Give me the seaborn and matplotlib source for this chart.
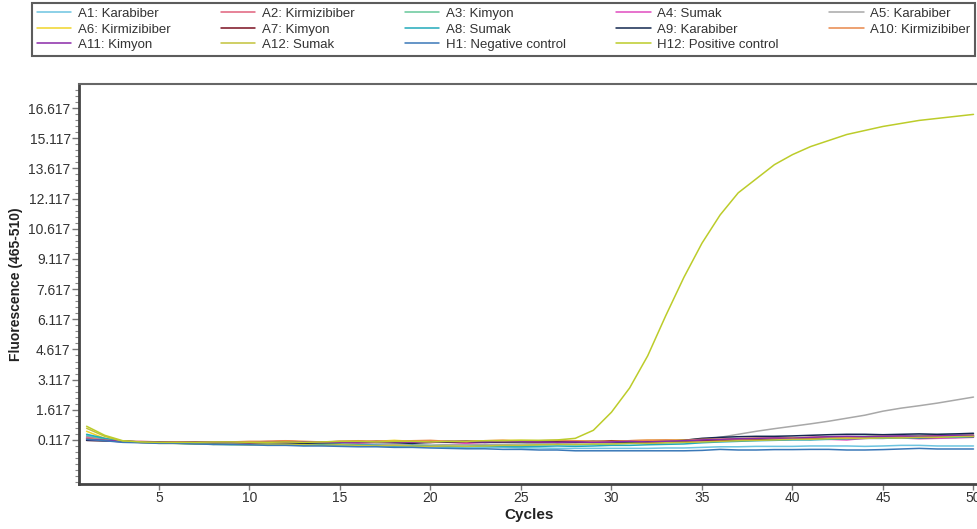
import matplotlib
matplotlib.use("Agg")
import matplotlib.pyplot as plt
from matplotlib.ticker import MultipleLocator, FixedLocator
import numpy as np
import seaborn as sns

# cycles 1..50
cycles = list(range(1, 51))

# sample names and line colours (legend order, row by row)
names = ["A1: Karabiber", "A2: Kirmizibiber", "A3: Kimyon", "A4: Sumak", "A5: Karabiber",
         "A6: Kirmizibiber", "A7: Kimyon", "A8: Sumak", "A9: Karabiber", "A10: Kirmizibiber",
         "A11: Kimyon", "A12: Sumak", "H1: Negative control", "H12: Positive control"]
colors = ["#6cc4e0", "#e0607c", "#66c89a", "#e04cc0", "#a8a8a8",
          "#f0d42a", "#7a1020", "#22aabb", "#142850", "#e8884a",
          "#8a2aa8", "#c2c23a", "#3a78b8", "#bccc2a"]

# y tick values shown on the axis
ytick_values = np.arange(0.117, 17.0, 1.5)

# fluorescence values
a1 = [0.35, 0.18, 0.05, 0.02, 0.0, -0.02, -0.05, -0.08, -0.08, -0.1, -0.1, -0.12, -0.12, -0.12, -0.15, -0.15, -0.18, -0.18, -0.2, -0.22,
      -0.22, -0.25, -0.25, -0.25, -0.28, -0.28, -0.3, -0.3, -0.3, -0.3, -0.3, -0.3, -0.28, -0.28, -0.25, -0.22, -0.22, -0.2, -0.2, -0.2,
      -0.18, -0.18, -0.18, -0.2, -0.18, -0.15, -0.15, -0.18, -0.18, -0.18]
a2 = [0.2, 0.12, 0.05, 0.05, 0.02, 0.02, 0.0, 0.0, 0.02, 0.0, 0.05, 0.05, 0.02, 0.0, 0.05, 0.05, 0.02, 0.0, 0.02, 0.05,
      0.05, 0.0, 0.0, 0.02, 0.05, 0.05, 0.05, 0.02, 0.0, 0.05, 0.08, 0.1, 0.08, 0.05, 0.1, 0.12, 0.15, 0.18, 0.2, 0.2,
      0.22, 0.22, 0.25, 0.25, 0.28, 0.3, 0.32, 0.32, 0.35, 0.35]
a3 = [0.3, 0.15, 0.02, 0.0, -0.02, -0.02, -0.05, -0.1, -0.05, -0.05, -0.02, -0.05, -0.08, -0.05, -0.08, -0.1, -0.1, -0.12, -0.12, -0.15,
      -0.12, -0.1, -0.15, -0.18, -0.15, -0.12, -0.1, -0.12, -0.1, -0.08, -0.05, -0.05, -0.02, 0.0, 0.05, 0.1, 0.12, 0.15, 0.18, 0.2,
      0.22, 0.25, 0.28, 0.3, 0.32, 0.32, 0.35, 0.38, 0.4, 0.42]
a4 = [0.25, 0.1, 0.02, 0.0, 0.0, 0.0, 0.02, 0.0, -0.02, 0.0, 0.0, 0.02, 0.0, 0.02, 0.0, -0.02, 0.0, 0.0, 0.02, 0.0,
      0.0, -0.05, 0.0, 0.02, 0.05, 0.0, -0.05, 0.0, 0.05, 0.02, 0.05, -0.05, 0.0, 0.05, 0.05, 0.1, 0.1, 0.15, 0.12, 0.15,
      0.18, 0.15, 0.12, 0.2, 0.2, 0.22, 0.18, 0.2, 0.22, 0.25]
a5 = [0.2, 0.1, 0.02, 0.0, 0.0, -0.02, -0.02, -0.05, -0.05, -0.05, -0.05, -0.08, -0.08, -0.1, -0.1, -0.1, -0.12, -0.12, -0.12, -0.15,
      -0.12, -0.12, -0.1, -0.1, -0.08, -0.05, -0.05, -0.02, 0.0, 0.02, 0.05, 0.08, 0.1, 0.12, 0.15, 0.25, 0.4, 0.55, 0.68, 0.8,
      0.92, 1.05, 1.2, 1.35, 1.55, 1.7, 1.82, 1.95, 2.1, 2.25]
a6 = [0.55, 0.2, 0.05, 0.02, -0.02, -0.05, -0.05, -0.08, -0.1, -0.05, -0.02, 0.0, 0.02, 0.02, 0.0, 0.02, 0.05, 0.1, 0.05, 0.02,
      0.05, 0.05, 0.08, 0.1, 0.1, 0.08, 0.05, 0.08, 0.05, 0.05, 0.08, 0.1, 0.1, 0.12, 0.15, 0.15, 0.18, 0.2, 0.18, 0.2,
      0.22, 0.2, 0.22, 0.25, 0.22, 0.25, 0.28, 0.25, 0.28, 0.3]
a7 = [0.1, 0.08, 0.05, 0.02, 0.0, 0.0, 0.02, 0.0, 0.0, 0.0, 0.02, 0.05, 0.02, 0.0, 0.0, 0.02, 0.05, 0.02, 0.02, 0.0,
      0.02, 0.05, 0.02, 0.05, 0.05, 0.02, 0.05, 0.0, 0.02, 0.08, 0.05, 0.0, 0.02, 0.05, 0.1, 0.12, 0.1, 0.12, 0.15, 0.18,
      0.15, 0.18, 0.2, 0.2, 0.22, 0.25, 0.22, 0.25, 0.28, 0.28]
a8 = [0.4, 0.2, 0.05, 0.0, -0.02, -0.05, -0.08, -0.1, -0.12, -0.12, -0.1, -0.12, -0.15, -0.12, -0.1, -0.12, -0.15, -0.18, -0.15, -0.2,
      -0.22, -0.2, -0.18, -0.2, -0.22, -0.2, -0.18, -0.2, -0.18, -0.15, -0.15, -0.12, -0.1, -0.08, -0.02, 0.02, 0.05, 0.08, 0.1, 0.12,
      0.12, 0.15, 0.18, 0.2, 0.2, 0.22, 0.22, 0.25, 0.25, 0.28]
a9 = [0.1, 0.08, 0.05, 0.02, 0.02, 0.0, 0.0, -0.02, 0.0, -0.02, 0.0, -0.02, -0.05, -0.02, 0.0, 0.05, 0.0, -0.02, -0.05, 0.0,
      0.02, 0.05, 0.0, 0.02, 0.02, 0.05, 0.0, 0.02, 0.05, 0.02, 0.0, 0.05, 0.05, 0.1, 0.2, 0.25, 0.28, 0.3, 0.3, 0.32,
      0.35, 0.38, 0.4, 0.4, 0.38, 0.4, 0.42, 0.4, 0.42, 0.45]
a10 = [0.2, 0.1, 0.05, 0.0, 0.0, 0.02, 0.0, 0.0, 0.02, 0.05, 0.05, 0.08, 0.05, 0.02, 0.05, 0.08, 0.05, 0.05, 0.08, 0.1,
       0.05, 0.05, 0.08, 0.1, 0.05, 0.08, 0.1, 0.08, 0.05, 0.05, 0.08, 0.1, 0.12, 0.1, 0.15, 0.15, 0.18, 0.2, 0.22, 0.22,
       0.25, 0.28, 0.25, 0.28, 0.3, 0.28, 0.3, 0.32, 0.32, 0.35]
a11 = [0.15, 0.1, 0.05, 0.02, 0.0, 0.0, 0.0, 0.02, 0.0, -0.02, 0.0, 0.0, 0.02, 0.0, 0.0, -0.02, 0.0, 0.02, 0.0, 0.0,
       0.05, 0.05, 0.02, 0.05, 0.05, 0.02, 0.0, 0.02, 0.0, 0.02, 0.05, 0.02, 0.05, 0.08, 0.12, 0.15, 0.18, 0.2, 0.22, 0.2,
       0.25, 0.28, 0.3, 0.28, 0.3, 0.32, 0.3, 0.32, 0.35, 0.35]
a12 = [0.7, 0.3, 0.05, 0.0, -0.05, -0.05, -0.08, -0.1, -0.1, -0.12, -0.1, -0.1, -0.12, -0.15, -0.12, -0.15, -0.18, -0.15, -0.18, -0.2,
       -0.18, -0.2, -0.18, -0.15, -0.15, -0.12, -0.1, -0.1, -0.08, -0.08, -0.05, -0.05, -0.02, 0.0, 0.02, 0.05, 0.08, 0.1, 0.12, 0.15,
       0.15, 0.18, 0.2, 0.2, 0.22, 0.22, 0.25, 0.25, 0.28, 0.3]
h1 = [0.15, 0.08, 0.0, -0.02, -0.05, -0.05, -0.08, -0.1, -0.1, -0.12, -0.15, -0.15, -0.18, -0.18, -0.2, -0.22, -0.22, -0.25, -0.25, -0.28,
      -0.3, -0.32, -0.32, -0.35, -0.35, -0.38, -0.38, -0.42, -0.42, -0.42, -0.42, -0.42, -0.42, -0.42, -0.4, -0.35, -0.38, -0.38, -0.36, -0.36,
      -0.35, -0.35, -0.38, -0.38, -0.36, -0.33, -0.3, -0.33, -0.33, -0.33]
h12 = [0.8, 0.35, 0.08, 0.02, 0.0, 0.0, 0.0, 0.02, 0.02, 0.0, 0.0, 0.02, 0.0, 0.02, 0.05, 0.05, 0.02, 0.05, 0.05, 0.02,
       0.05, 0.05, 0.08, 0.08, 0.1, 0.1, 0.12, 0.2, 0.6, 1.5, 2.7, 4.3, 6.3, 8.2, 9.9, 11.3, 12.4, 13.1, 13.8, 14.3,
       14.7, 15.0, 15.3, 15.5, 15.7, 15.85, 16.0, 16.1, 16.2, 16.3]

series = [a1, a2, a3, a4, a5, a6, a7, a8, a9, a10, a11, a12, h1, h12]

sns.set_style("white")
plt.rcParams['font.family'] = ['Liberation Sans', 'DejaVu Sans']

fig = plt.figure(figsize=(9.78, 5.29), dpi=100)
ax = fig.add_axes([79 / 978, 45 / 529, 901 / 978, 400 / 529])

for name, col, vals in zip(names, colors, series):
    sns.lineplot(x=cycles, y=vals, color=col, label=name, linewidth=1.1, ax=ax, legend=False)

ax.set_xlim(0.58, 50.36)
ax.set_ylim(-2.07, 17.81)
ax.xaxis.set_major_locator(MultipleLocator(5))
ax.yaxis.set_major_locator(FixedLocator(ytick_values))
ax.yaxis.set_minor_locator(MultipleLocator(0.3, offset=0.117))
ax.yaxis.set_major_formatter(plt.FuncFormatter(lambda v, p: f"{v:.3f}"))

ax.tick_params(axis='both', which='major', direction='out', length=5, width=1,
               color='#777777', labelsize=10, labelcolor='#333333', pad=1)
ax.tick_params(axis='y', which='minor', direction='out', length=3, width=0.8, color='#888888', left=True)
ax.tick_params(axis='x', which='major', bottom=True, length=4)
ax.tick_params(axis='y', which='major', left=True)

for side in ['left', 'bottom']:
    ax.spines[side].set_color('#444444')
    ax.spines[side].set_linewidth(2)
ax.spines['top'].set_color('#666666')
ax.spines['top'].set_linewidth(1.5)
ax.spines['right'].set_visible(False)

ax.set_xlabel('Cycles', fontsize=11, fontweight='bold', color='#222222', labelpad=2)
ax.set_ylabel('Fluorescence (465-510)', fontsize=10, fontweight='bold', color='#222222', labelpad=4)

# legend is filled column by column, so reorder for a row-by-row look
handles, labels = ax.get_legend_handles_labels()
order = [0, 5, 10, 1, 6, 11, 2, 7, 12, 3, 8, 13, 4, 9]
leg = fig.legend([handles[i] for i in order], [labels[i] for i in order],
                 ncol=5, mode='expand', loc='upper left',
                 bbox_to_anchor=(32 / 978, 0.881, 943 / 978, 0.113),
                 borderaxespad=0, fontsize=9.5, frameon=True, fancybox=False,
                 edgecolor='#333333', handlelength=2.6, handletextpad=0.5,
                 labelspacing=0.25, borderpad=0.35)
leg.get_frame().set_linewidth(1.5)
for t in leg.get_texts():
    t.set_color('#333333')

fig.savefig('out.png', dpi=100)
